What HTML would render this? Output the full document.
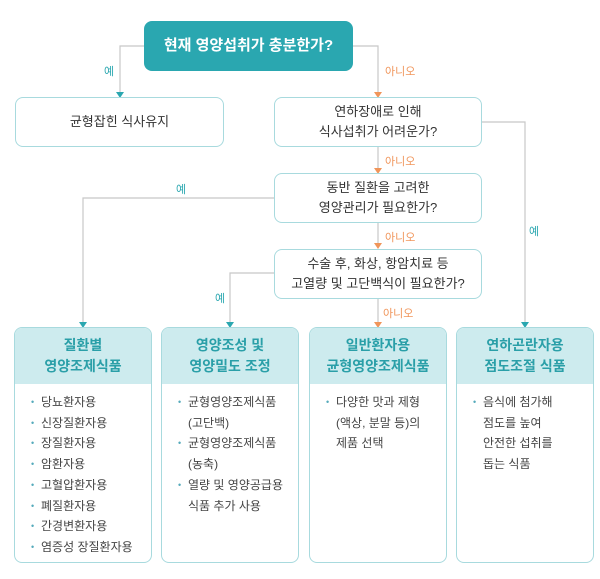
<!DOCTYPE html>
<html><head><meta charset="utf-8"><style>
body{margin:0;width:600px;height:579px;background:#fff;position:relative;overflow:hidden;font-family:"Liberation Sans","Noto Sans CJK KR",sans-serif;}
.b{position:absolute;box-sizing:border-box;border:1.5px solid #a8dade;border-radius:8px;background:#fff;display:flex;align-items:center;justify-content:center;text-align:center;font-size:13px;color:#333;line-height:20px;}
.t{position:absolute;font-size:11px;}
.y{color:#2aa7b0;}.n{color:#f0955a;}
.col{position:absolute;top:327px;height:236px;box-sizing:border-box;border:1.5px solid #a8dade;border-radius:8px;overflow:hidden;background:#fff;}
.hd{height:56px;background:#cdebee;color:#2a9fa8;font-weight:bold;font-size:14px;line-height:21px;display:flex;align-items:center;justify-content:center;text-align:center;}
.ls{padding:8px 0 0 16px;font-size:12px;color:#444;line-height:20.7px;}
.ls div{padding-left:10px;position:relative;}
.ls .d::before{content:"•";position:absolute;left:0;color:#5ab;font-size:9px;}
</style></head><body>
<svg width="600" height="579" style="position:absolute;left:0;top:0">
<g fill="none" stroke="#c8c8c8" stroke-width="1.2">
<polyline points="145,46 120,46 120,93"/>
<polyline points="352,46 378,46 378,93"/>
<line x1="378" y1="147" x2="378" y2="169"/>
<line x1="378" y1="223" x2="378" y2="244"/>
<line x1="378" y1="298" x2="378" y2="323"/>
<polyline points="482,122 525,122 525,323"/>
<polyline points="274,198 83,198 83,323"/>
<polyline points="274,273 230,273 230,323"/>
</g>
<g fill="#2aa7b0"><path d="M116,92h8l-4,6z"/><path d="M79,322h8l-4,6z"/><path d="M226,322h8l-4,6z"/><path d="M521,322h8l-4,6z"/></g>
<g fill="#f0955a"><path d="M374,92h8l-4,6z"/><path d="M374,168h8l-4,6z"/><path d="M374,243h8l-4,6z"/><path d="M374,322h8l-4,6z"/></g>
</svg>
<div class="b" style="left:144px;top:21px;width:209px;height:50px;background:#2aa7b0;border:none;color:#fff;font-weight:bold;font-size:15px;">현재 영양섭취가 충분한가?</div>
<div class="t y" style="left:104px;top:63px">예</div>
<div class="t n" style="left:385px;top:63px">아니오</div>
<div class="b" style="left:15px;top:97px;width:209px;height:50px;">균형잡힌 식사유지</div>
<div class="b" style="left:274px;top:97px;width:208px;height:50px;">연하장애로 인해<br>식사섭취가 어려운가?</div>
<div class="t n" style="left:385px;top:153px">아니오</div>
<div class="b" style="left:274px;top:173px;width:208px;height:50px;">동반 질환을 고려한<br>영양관리가 필요한가?</div>
<div class="t y" style="left:176px;top:181px">예</div>
<div class="t y" style="left:529px;top:223px">예</div>
<div class="t n" style="left:385px;top:229px">아니오</div>
<div class="b" style="left:274px;top:249px;width:208px;height:50px;">수술 후, 화상, 항암치료 등<br>고열량 및 고단백식이 필요한가?</div>
<div class="t y" style="left:215px;top:290px">예</div>
<div class="t n" style="left:383px;top:305px">아니오</div>
<div class="col" style="left:14px;width:138px"><div class="hd">질환별<br>영양조제식품</div><div class="ls"><div class="d">당뇨환자용</div><div class="d">신장질환자용</div><div class="d">장질환자용</div><div class="d">암환자용</div><div class="d">고혈압환자용</div><div class="d">폐질환자용</div><div class="d">간경변환자용</div><div class="d">염증성 장질환자용</div></div></div>
<div class="col" style="left:161px;width:138px"><div class="hd">영양조성 및<br>영양밀도 조정</div><div class="ls"><div class="d">균형영양조제식품</div><div>(고단백)</div><div class="d">균형영양조제식품</div><div>(농축)</div><div class="d">열량 및 영양공급용</div><div>식품 추가 사용</div></div></div>
<div class="col" style="left:309px;width:138px"><div class="hd">일반환자용<br>균형영양조제식품</div><div class="ls"><div class="d">다양한 맛과 제형</div><div>(액상, 분말 등)의</div><div>제품 선택</div></div></div>
<div class="col" style="left:456px;width:138px"><div class="hd">연하곤란자용<br>점도조절 식품</div><div class="ls"><div class="d">음식에 첨가해</div><div>점도를 높여</div><div>안전한 섭취를</div><div>돕는 식품</div></div></div>
</body></html>
